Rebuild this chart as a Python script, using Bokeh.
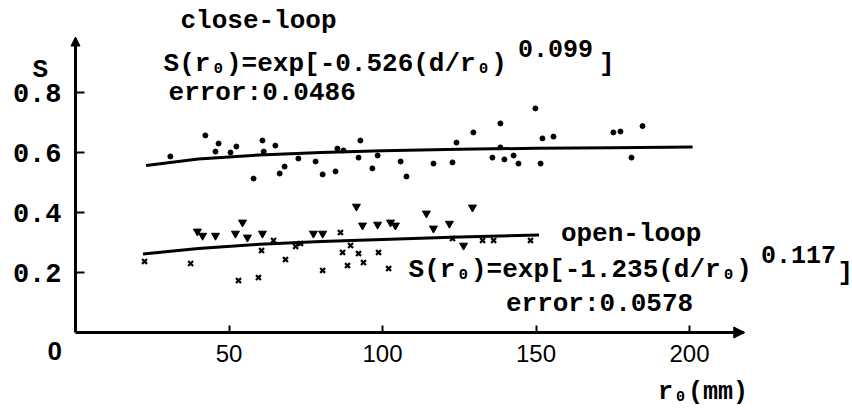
from bokeh.plotting import figure
from bokeh.models import Range1d, LinearAxis, FixedTicker, Label, Arrow, NormalHead
from bokeh.embed import file_html
from bokeh.resources import INLINE

# ---------------- data ----------------
x_ticks = [50, 100, 150, 200]
y_ticks = [0.2, 0.4, 0.6, 0.8]

# fitted curves
close_fit_x = [23, 40, 60, 80, 100, 125, 150, 175, 201]
close_fit_y = [0.557, 0.578, 0.592, 0.600, 0.606, 0.611, 0.614, 0.616, 0.618]
open_fit_x = [22, 40, 60, 80, 100, 125, 151]
open_fit_y = [0.262, 0.280, 0.294, 0.303, 0.310, 0.318, 0.325]

# close-loop measurements (dots)
close_x = [30.9, 42.3, 46.6, 45.6, 50.5, 52.4, 60.9, 61.3, 65.1, 58.0, 66.5, 68.1,
           72.6, 78.2, 80.5, 84.7, 85.3, 87.3, 92.8, 92.2, 96.7, 98.4, 105.9, 107.8,
           116.6, 122.8, 124.1, 129.6, 135.8, 138.4, 138.4, 139.7, 142.7, 144.3,
           149.8, 151.5, 152.1, 155.7, 175.2, 177.5, 181.1, 184.7]
close_y = [0.587, 0.657, 0.630, 0.603, 0.600, 0.620, 0.640, 0.603, 0.623, 0.513, 0.530, 0.553,
           0.580, 0.570, 0.527, 0.537, 0.613, 0.607, 0.640, 0.583, 0.547, 0.590, 0.570, 0.520,
           0.563, 0.567, 0.633, 0.667, 0.583, 0.697, 0.617, 0.577, 0.590, 0.563,
           0.747, 0.563, 0.647, 0.653, 0.667, 0.670, 0.583, 0.688]

# open-loop measurements (triangles and crosses)
open_tri_x = [39.7, 41.4, 45.6, 52.1, 54.4, 56.0, 60.9, 77.5, 80.5, 91.5, 93.5, 98.4,
              102.6, 104.2, 114.3, 116.6, 121.8, 126.4, 129.3]
open_tri_y = [0.337, 0.323, 0.323, 0.330, 0.367, 0.317, 0.330, 0.330, 0.330, 0.420, 0.357, 0.360,
              0.367, 0.357, 0.397, 0.347, 0.363, 0.290, 0.417]
open_x_x = [22.5, 37.5, 53.1, 59.6, 60.6, 64.5, 68.4, 71.7, 73.3, 80.5, 86.3, 87.0, 88.6,
            89.6, 92.2, 93.8, 98.7, 102.0, 122.8, 132.6, 136.2, 148.2]
open_x_y = [0.237, 0.230, 0.173, 0.183, 0.273, 0.307, 0.243, 0.287, 0.297, 0.207, 0.333, 0.267, 0.223,
            0.290, 0.263, 0.233, 0.267, 0.213, 0.313, 0.307, 0.307, 0.307]

MONO = "Liberation Mono"

p = figure(width=852, height=410, output_backend="svg", toolbar_location=None,
           x_range=Range1d(-24.43, 253.09), y_range=Range1d(-0.26, 1.1067),
           x_axis_type=None, y_axis_type=None,
           min_border_left=0, min_border_right=0, min_border_top=0, min_border_bottom=0)
p.outline_line_color = None
p.background_fill_color = "white"
p.border_fill_color = "white"

xaxis = LinearAxis(ticker=FixedTicker(ticks=x_ticks), bounds=(0, 217.5), fixed_location=0)
xaxis.axis_line_width = 3
xaxis.axis_line_color = "black"
xaxis.major_tick_in = 7
xaxis.major_tick_out = 0
xaxis.major_tick_line_width = 2
xaxis.minor_tick_line_color = None
xaxis.major_label_standoff = 12
xaxis.major_label_text_font = "Liberation Sans"
xaxis.major_label_text_font_size = "24px"
xaxis.major_label_text_color = "black"
p.add_layout(xaxis, "below")

yaxis = LinearAxis(ticker=FixedTicker(ticks=y_ticks), bounds=(0, 0.98), fixed_location=0)
yaxis.axis_line_width = 3
yaxis.axis_line_color = "black"
yaxis.major_tick_in = 9
yaxis.major_tick_out = 0
yaxis.major_tick_line_width = 2
yaxis.minor_tick_line_color = None
yaxis.major_label_standoff = 14
yaxis.major_label_text_font = MONO
yaxis.major_label_text_font_style = "bold"
yaxis.major_label_text_font_size = "27px"
yaxis.major_label_text_color = "black"
p.add_layout(yaxis, "left")

# arrow heads on the axes
p.add_layout(Arrow(end=NormalHead(size=11, fill_color="black", line_color="black"),
                   x_start=212, y_start=0, x_end=218, y_end=0, line_width=3, line_color="black"))
p.add_layout(Arrow(end=NormalHead(size=9, fill_color="black", line_color="black"),
                   x_start=0, y_start=0.94, x_end=0, y_end=0.985, line_width=3, line_color="black"))

# fitted curves
p.line(close_fit_x, close_fit_y, line_width=3, line_color="black")
p.line(open_fit_x, open_fit_y, line_width=3, line_color="black")

# measurements
p.scatter(close_x, close_y, marker="circle", size=5, fill_color="black", line_color="black")
p.scatter(open_tri_x, open_tri_y, marker="inverted_triangle", size=8, fill_color="black", line_color="black")
p.scatter(open_x_x, open_x_y, marker="x", size=7, line_width=2.2, line_color="black")

def lab(x, y, text, size="26px", font=MONO, style="bold"):
    p.add_layout(Label(x=x, y=y, text=text, text_font=font, text_font_size=size,
                       text_font_style=style, text_color="black", y_offset=8,
                       text_baseline="alphabetic", text_align="left"))

lab(34.2, 1.013, "close-loop")
lab(28.7, 0.870, "S(r₀)=exp[-0.526(d/r₀)")
lab(144.1, 0.920, "0.099", size="25px")
lab(170.5, 0.870, "]")
lab(30.3, 0.773, "error:0.0486")

lab(158.1, 0.303, "open-loop")
lab(108.5, 0.183, "S(r₀)=exp[-1.235(d/r₀)")
lab(223.3, 0.233, "0.117", size="25px")
lab(248.2, 0.173, "]")
lab(140.2, 0.067, "error:0.0578")

lab(-14.0, 0.847, "S", size="26px")
lab(-9.1, -0.087, "0", size="26px", font="Liberation Sans")
lab(189.7, -0.227, "r₀(mm)", size="25px")

open("out.html", "w").write(file_html(p, INLINE))
